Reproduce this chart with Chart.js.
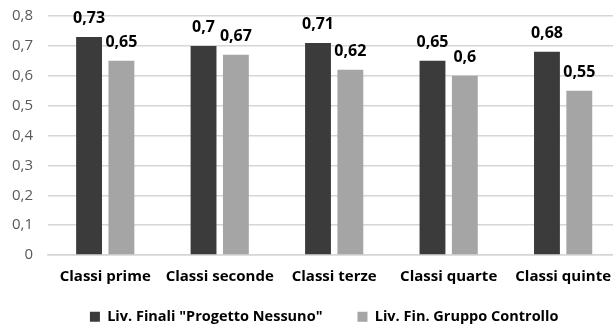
<!DOCTYPE html>
<html>
<head>
<meta charset="utf-8">
<script src="https://cdn.jsdelivr.net/npm/chart.js@4/dist/chart.umd.min.js"></script>
<style>
  html, body { margin: 0; padding: 0; background: #ffffff; overflow: hidden; }
  #wrap { width: 613px; height: 324px; overflow: hidden; }
</style>
</head>
<body>
<div id="wrap"><canvas id="c" width="624" height="334"></canvas></div>
<script>
const categories = ["Classi prime", "Classi seconde", "Classi terze", "Classi quarte", "Classi quinte"];
const seriesNames = ['Liv. Finali "Progetto Nessuno"', 'Liv. Fin. Gruppo Controllo'];
const finaliProgetto = [0.73, 0.70, 0.71, 0.65, 0.68];
const finaliControllo = [0.65, 0.67, 0.62, 0.60, 0.55];
const yTicks = [0, 0.1, 0.2, 0.3, 0.4, 0.5, 0.6, 0.7, 0.8];

const FONT = "'Open Sans', Lato, sans-serif";
const fmt = v => String(Math.round(v * 100) / 100).replace('.', ',');

const valueLabels = {
  id: 'valueLabels',
  afterDatasetsDraw(chart) {
    const ctx = chart.ctx;
    ctx.save();
    ctx.font = "bold 16px " + FONT;
    ctx.fillStyle = '#000000';
    ctx.textAlign = 'center';
    ctx.textBaseline = 'alphabetic';
    chart.data.datasets.forEach((ds, di) => {
      const meta = chart.getDatasetMeta(di);
      meta.data.forEach((bar, i) => {
        ctx.fillText(fmt(ds.data[i]), bar.x, bar.y - 14);
      });
    });
    ctx.restore();
  }
};

const legendShift = {
  id: 'legendShift',
  afterLayout(chart) {
    if (chart.legend) { chart.legend.left -= 10; chart.legend.right -= 10; }
  }
};

new Chart(document.getElementById('c'), {
  type: 'bar',
  data: {
    labels: categories,
    datasets: [
      { label: seriesNames[0], data: finaliProgetto, backgroundColor: '#3b3b3b',
        categoryPercentage: 0.565, barPercentage: 0.8 },
      { label: seriesNames[1], data: finaliControllo, backgroundColor: '#a5a5a5',
        categoryPercentage: 0.565, barPercentage: 0.8 }
    ]
  },
  options: {
    responsive: false,
    animation: false,
    devicePixelRatio: 1,
    layout: { padding: { top: 16, left: 0, right: 0, bottom: 0 } },
    plugins: {
      legend: {
        position: 'bottom',
        fullSize: false,
        labels: {
          boxWidth: 10, boxHeight: 10, padding: 35,
          color: '#000000',
          font: { family: FONT, size: 14.5, weight: 'bold' }
        }
      },
      tooltip: { enabled: false }
    },
    scales: {
      x: {
        afterFit(scale) {
          scale.height = 19.5;
          scale._computeLabelArea = () => undefined;
        },
        grid: { display: false, drawTicks: false },
        border: { display: true, color: '#d6d6d6', width: 1.5 },
        ticks: { color: '#000000', padding: 13, font: { family: FONT, size: 15, weight: 'bold' } }
      },
      y: {
        min: 0, max: 0.8,
        afterFit(scale) { scale.width = 48; scale.paddingTop = 0; scale.paddingBottom = 0; },
        afterBuildTicks(scale) { scale.ticks = yTicks.map(v => ({ value: v })); },
        grid: { color: '#d6d6d6', lineWidth: 1.5, drawTicks: false },
        border: { display: false },
        ticks: { color: '#595959', padding: 15, font: { family: FONT, size: 15 },
          callback: v => fmt(v) }
      }
    }
  },
  plugins: [valueLabels, legendShift]
});
</script>
</body>
</html>
